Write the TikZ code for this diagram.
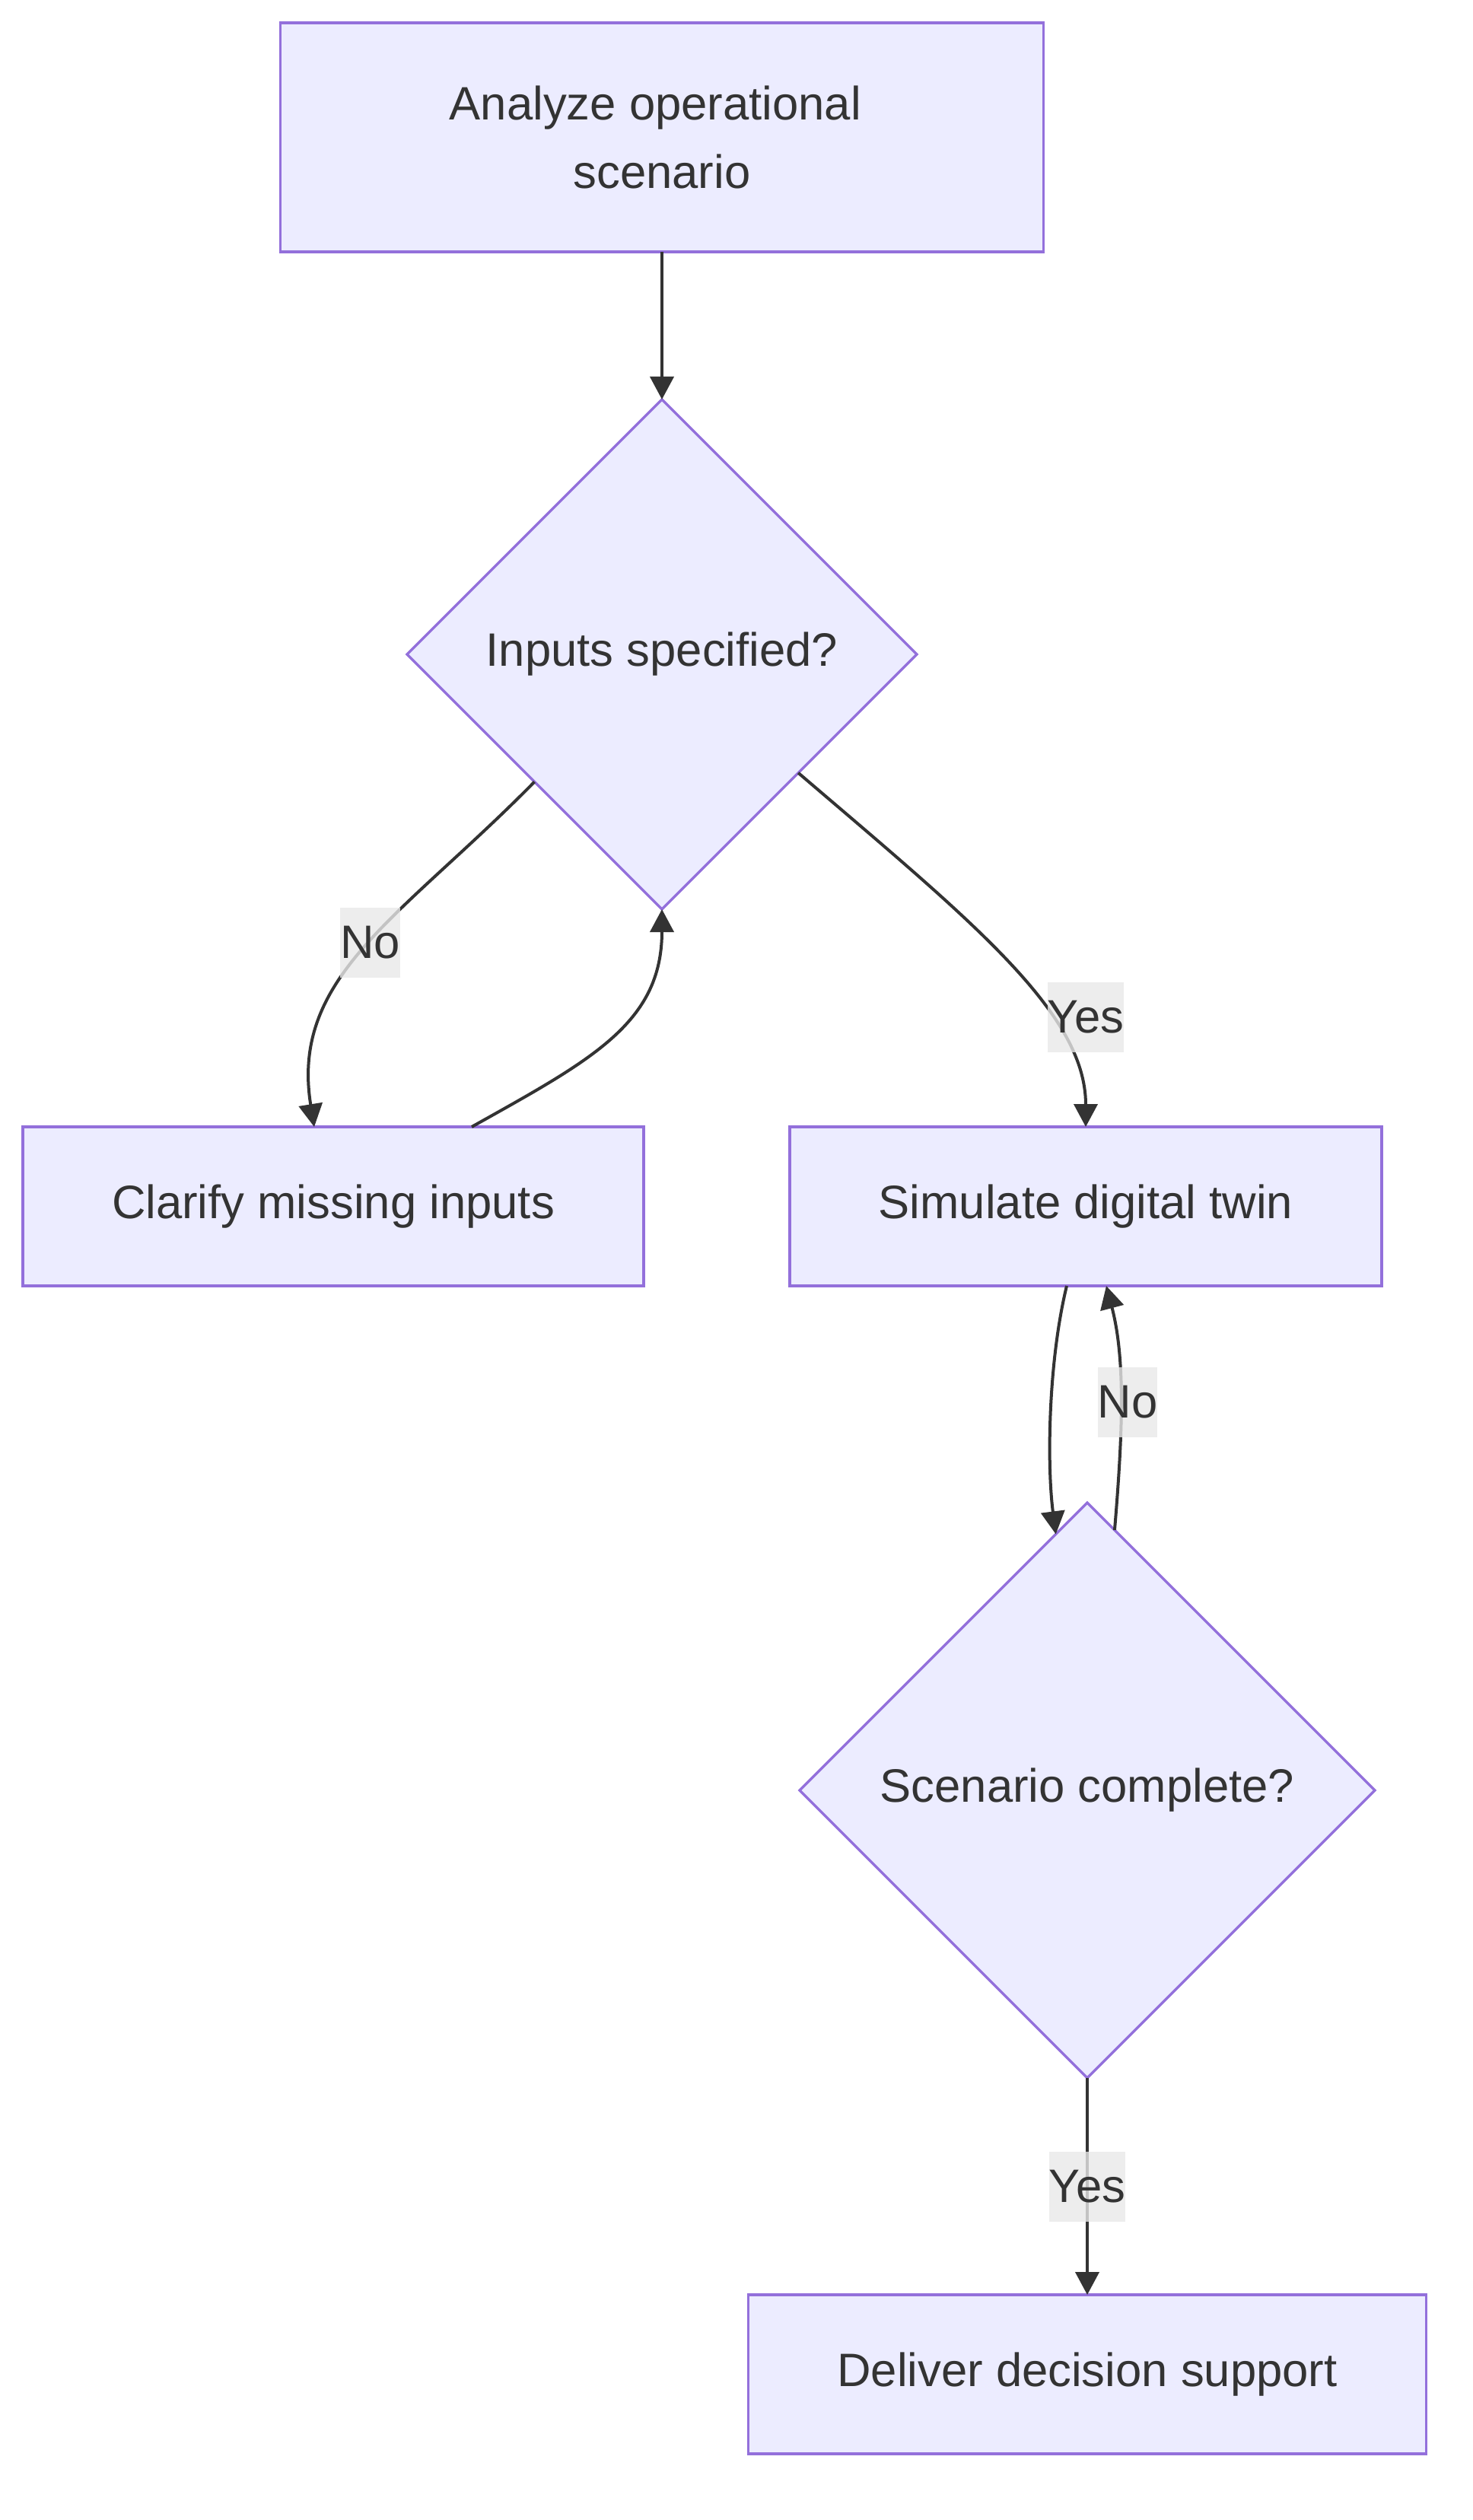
\documentclass[tikz,border=0pt]{standalone}
\usepackage{fontspec}
\setmainfont{Liberation Sans}
\usepackage{tikz}
\definecolor{clrNode}  {HTML}{ECECFF}
\definecolor{clrBorder}{HTML}{9370DB}
\definecolor{clrText}  {HTML}{333333}
\definecolor{clrLabel} {HTML}{E8E8E8}
\usetikzlibrary{shapes.geometric,arrows.meta,positioning}

\begin{document}
\begin{tikzpicture}[
  every node/.style = {font=\fontsize{30.8pt}{45pt}\selectfont, text=clrText},
  %--- node styles ---------------------------------------------------
  procst/.style   = {draw=clrBorder, fill=clrNode, line width=1.7pt,
                     rectangle, minimum height=104.5pt,
                     align=center, outer sep=0pt},
  decst/.style    = {draw=clrBorder, fill=clrNode, line width=1.7pt,
                     diamond, aspect=1, inner sep=0pt,
                     align=center, outer sep=0pt},
  lblst/.style    = {fill=clrLabel, fill opacity=0.8, text opacity=1,
                     inner xsep=0pt, inner ysep=0pt, minimum height=46pt},
  arr/.style      = {->, >={Triangle[length=15pt, width=15.5pt]},
                     line width=2pt, color=clrText},
]
\useasboundingbox (0,0) rectangle (968pt,-1656pt);

% ---- Nodes --------------------------------------------------------
\node[procst, minimum width=501.5pt, minimum height=150.5pt] (analyze)
    at (435pt,-90.25pt) {Analyze operational\hspace*{0.278em}\\scenario};

\node[decst, minimum size=335pt, below=97pt of analyze] (inputs)
    {Inputs specified?};

\node[procst, minimum width=408pt, below=143pt of inputs, xshift=-216pt] (clarify)
    {Clarify missing inputs};

\node[procst, minimum width=389pt, below=143pt of inputs, xshift=278.5pt] (simulate)
    {Simulate digital twin};

\node[decst, minimum size=378pt, below=142.5pt of simulate, xshift=1pt] (complete)
    {Scenario complete?};

\node[procst, minimum width=445.5pt, below=142.5pt of complete] (deliver)
    {Deliver decision support};

% ---- Arrows -------------------------------------------------------
\draw[arr] (analyze) -- (inputs);
\draw[arr] (inputs.-135) .. controls +(-87.5pt,-89pt) and +(-16pt,99pt)
    .. ([xshift=-12.5pt]clarify.north) node[lblst, pos=0.48] (lblNo1) {No};
\draw[arr] ([xshift=91pt]clarify.north) .. controls +(78.5pt,44pt) and +(0,-75pt)
    .. (inputs.south);
\draw[arr] (inputs.-41) .. controls +(114pt,-97.5pt) and +(0,75pt)
    .. (simulate.north);
\draw[arr] ([xshift=-12.5pt]simulate.south) .. controls +(-12pt,-49pt) and +(-6pt,46.5pt)
    .. (complete.97);
\draw[arr] (complete.84) .. controls +(5pt,60pt) and +(13pt,-49.5pt)
    .. ([xshift=13.5pt]simulate.south) node[lblst, pos=0.5, xshift=4.5pt] (lblNo2) {No};
\draw[arr] (complete) -- (deliver) node[lblst, midway] (lblYes2) {Yes};

% ---- Labels -------------------------------------------------------
\node[lblst, above=49pt of simulate] (lblYes1) {Yes};

\end{tikzpicture}
\end{document}
